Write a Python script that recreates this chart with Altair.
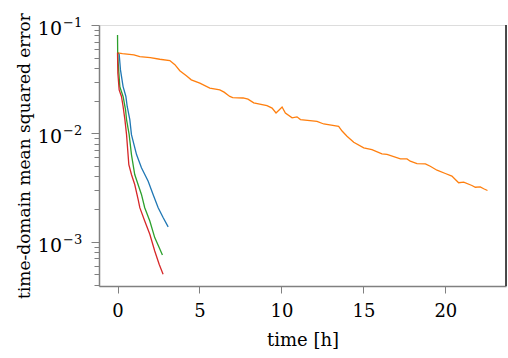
import altair as alt
import pandas as pd

# ---- data ----
orange_x = [0, 0.3, 1.0, 1.36, 2.0, 2.58, 3.19, 3.5, 3.8, 4.2, 4.5, 5.02, 5.63, 6.24, 6.5, 6.85, 7.03, 7.66, 7.96, 8.31,
            9.12, 9.43, 9.67, 10.04, 10.24, 10.65, 10.95, 11.16, 12.17, 12.58, 13.49, 13.7, 14.0, 14.41, 15.02, 15.52,
            16.13, 16.44, 17.26, 17.66, 17.86, 18.27, 18.78, 19.08, 19.49, 20.0, 20.4, 20.61, 20.81, 21.12, 21.62,
            21.83, 22.13, 22.34, 22.57]
orange_y = [0.0553, 0.0545, 0.0530, 0.0511, 0.0500, 0.0483, 0.0470, 0.0430, 0.0378, 0.0340, 0.0312, 0.0291, 0.0262,
            0.0252, 0.0240, 0.0219, 0.0214, 0.0212, 0.0207, 0.0191, 0.0180, 0.0171, 0.0154, 0.0175, 0.0154, 0.0139,
            0.0142, 0.0134, 0.0129, 0.0122, 0.0116, 0.0105, 0.0094, 0.00826, 0.00734, 0.00708, 0.00646, 0.00640,
            0.00581, 0.00581, 0.00553, 0.00526, 0.00522, 0.00497, 0.00457, 0.00426, 0.00403, 0.00375, 0.00350,
            0.00355, 0.00330, 0.00318, 0.00320, 0.00308, 0.00297]

blue_x = [0, 0.10, 0.18, 0.34, 0.51, 0.59, 0.75, 0.85, 1.16, 1.46, 1.87, 2.17, 2.48, 2.78, 3.09]
blue_y = [0.0553, 0.0540, 0.0385, 0.0270, 0.0219, 0.0177, 0.0134, 0.00973, 0.00637, 0.00481, 0.00362, 0.00273,
          0.00206, 0.00167, 0.00137]

green_x = [0, 0.01, 0.04, 0.14, 0.34, 0.49, 0.55, 0.71, 0.85, 1.05, 1.32, 1.46, 1.66, 1.97, 2.27, 2.54, 2.74]
green_y = [0.0809, 0.0550, 0.0445, 0.0270, 0.0219, 0.0165, 0.0134, 0.00973, 0.00637, 0.00417, 0.00315, 0.00273,
           0.00206, 0.00155, 0.00109, 0.000883, 0.000755]

red_x = [0, 0.02, 0.10, 0.24, 0.34, 0.45, 0.55, 0.69, 0.85, 1.05, 1.26, 1.36, 1.66, 1.97, 2.27, 2.54, 2.78]
red_y = [0.0556, 0.0360, 0.0252, 0.0219, 0.0177, 0.0134, 0.00973, 0.00515, 0.00417, 0.00337, 0.00245, 0.00206,
         0.00155, 0.00117, 0.00082, 0.00062, 0.000501]

series_names = ["blue", "orange", "green", "red"]
series_colors = ["#1f77b4", "#ff7f0e", "#2ca02c", "#d62728"]

x_ticks = [0, 5, 10, 15, 20]
decades = [0.1, 0.01, 0.001]
decade_exps = ["\u22121", "\u22122", "\u22123"]
minor_ticks = [4e-4, 5e-4, 6e-4, 7e-4, 8e-4, 9e-4,
               1e-3, 2e-3, 3e-3, 4e-3, 5e-3, 6e-3, 7e-3, 8e-3, 9e-3,
               1e-2, 2e-2, 3e-2, 4e-2, 5e-2, 6e-2, 7e-2, 8e-2, 9e-2, 1e-1]

x_domain = [-1.13, 23.7]
y_domain = [3.9e-4, 0.1]

# ---- build table ----
rows = []
for name, xs, ys in [("blue", blue_x, blue_y), ("orange", orange_x, orange_y),
                     ("green", green_x, green_y), ("red", red_x, red_y)]:
    for i, (xv, yv) in enumerate(zip(xs, ys)):
        rows.append({"series": name, "t": xv, "mse": yv, "order": i})
df = pd.DataFrame(rows)

FONT = "DejaVu Serif"
W, H = 407, 261

xscale = alt.Scale(domain=x_domain, nice=False, zero=False)
yscale = alt.Scale(type="log", domain=y_domain, nice=False)

is_major = "abs(log(datum.value)/LN10 - round(log(datum.value)/LN10)) < 1e-6"

lines = alt.Chart(df).mark_line(strokeWidth=1.3, clip=True).encode(
    x=alt.X("t:Q", scale=xscale,
            axis=alt.Axis(values=x_ticks, title="time [h]", grid=False, tickSize=7, tickColor="#808080",
                          domainColor="#808080", domainWidth=1.5, labelFont=FONT, labelFontSize=18,
                          labelColor="#000", labelBaseline="alphabetic", labelPadding=23,
                          titleFont=FONT, titleFontSize=18, titleFontWeight="normal", titleColor="#000",
                          titleBaseline="alphabetic", titleY=59, format="d")),
    y=alt.Y("mse:Q", scale=yscale,
            axis=alt.Axis(values=minor_ticks, labels=False, grid=False,
                          tickSize={"condition": {"test": is_major, "value": 8}, "value": 5},
                          tickColor="#808080", domainColor="#808080", domainWidth=1.5,
                          title="time-domain mean squared error", titleFont=FONT, titleFontSize=17,
                          titleFontWeight="normal", titleColor="#000", titleAngle=-90,
                          titleBaseline="alphabetic", titleAlign="center", titleX=-70, titleY=H / 2)),
    color=alt.Color("series:N", scale=alt.Scale(domain=series_names, range=series_colors), legend=None),
    order="order:Q",
)

lab_df = pd.DataFrame({"v": decades, "base": ["10"] * len(decades), "exp": decade_exps})
base_txt = alt.Chart(lab_df).mark_text(font=FONT, fontSize=19, align="right", baseline="alphabetic",
                                       dy=10, color="#000").encode(
    x=alt.value(-37), y=alt.Y("v:Q", scale=yscale), text="base:N")
exp_txt = alt.Chart(lab_df).mark_text(font=FONT, fontSize=13, align="left", baseline="alphabetic",
                                      dy=2, color="#000").encode(
    x=alt.value(-36), y=alt.Y("v:Q", scale=yscale), text="exp:N")

right_border = alt.Chart(lab_df).mark_rule(color="#333", strokeWidth=1).encode(
    x=alt.value(W), y=alt.value(0), y2=alt.value(H))

chart = alt.layer(lines, base_txt, exp_txt, right_border).properties(
    width=W, height=H,
    autosize=alt.AutoSizeParams(type="none"),
    padding={"left": 99, "top": 25, "right": 2, "bottom": 72},
).configure_view(stroke="#808080", strokeWidth=1.5).configure(background="white", font=FONT)

chart.save("out.html", embed_options={"renderer": "svg", "actions": False})
